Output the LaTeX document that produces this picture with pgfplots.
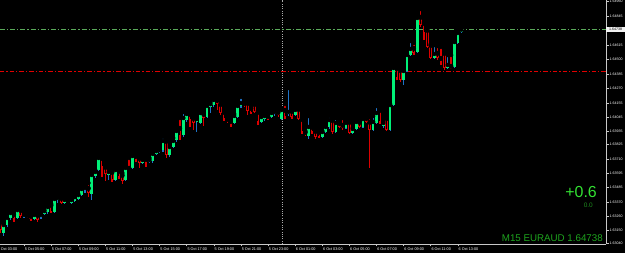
\documentclass[border=0pt]{standalone}
\usepackage{fontspec}
\setmainfont{Liberation Sans}
\usepackage{pgfplots}
\usepackage{pgfplotstable}
\pgfplotsset{compat=1.18}
\definecolor{bullbody}{RGB}{0,240,120}
\definecolor{bullwick}{RGB}{30,115,200}
\definecolor{bearcol}{RGB}{220,0,0}
\definecolor{axisgray}{RGB}{200,200,200}
\definecolor{bidline}{RGB}{90,170,90}
\definecolor{redline}{RGB}{225,0,0}
\definecolor{sepgray}{RGB}{170,170,170}
\definecolor{biggreen}{RGB}{50,225,50}
\definecolor{smallgreen}{RGB}{30,140,30}
\definecolor{infogreen}{RGB}{30,165,30}

\pgfplotstableread{
i O H L C
2 1.63125 1.63212 1.63101 1.63188
3 1.63188 1.63276 1.63172 1.63244
4 1.63244 1.63307 1.63228 1.63284
6 1.63244 1.63323 1.63236 1.63307
8 1.63260 1.63291 1.63244 1.63268
11 1.63236 1.63291 1.63228 1.63268
13 1.63252 1.63284 1.63236 1.63268
14 1.63276 1.63307 1.63268 1.63299
15 1.63291 1.63347 1.63276 1.63331
17 1.63291 1.63403 1.63284 1.63395
18 1.63387 1.63426 1.63363 1.63403
20 1.63363 1.63395 1.63355 1.63387
22 1.63363 1.63395 1.63355 1.63387
23 1.63379 1.63418 1.63371 1.63410
24 1.63395 1.63434 1.63387 1.63426
25 1.63426 1.63482 1.63418 1.63474
26 1.63466 1.63498 1.63442 1.63482
28 1.63434 1.63601 1.63387 1.63585
29 1.63577 1.63625 1.63561 1.63609
30 1.63625 1.63728 1.63617 1.63720
33 1.63585 1.63633 1.63545 1.63609
35 1.63545 1.63633 1.63537 1.63625
38 1.63545 1.63664 1.63537 1.63641
40 1.63641 1.63768 1.63633 1.63736
43 1.63680 1.63728 1.63672 1.63704
45 1.63688 1.63720 1.63680 1.63704
46 1.63696 1.63783 1.63680 1.63752
47 1.63752 1.63791 1.63744 1.63775
48 1.63768 1.63807 1.63760 1.63783
49 1.63783 1.63887 1.63768 1.63855
51 1.63744 1.63823 1.63728 1.63807
52 1.63807 1.63879 1.63799 1.63855
53 1.63863 1.63958 1.63847 1.63934
55 1.63902 1.64085 1.63887 1.64037
56 1.64021 1.64093 1.64006 1.64069
59 1.64006 1.64037 1.63926 1.64029
60 1.63998 1.64085 1.63990 1.64077
62 1.64045 1.64148 1.64037 1.64133
63 1.64125 1.64164 1.64077 1.64148
64 1.64140 1.64188 1.64125 1.64180
70 1.63998 1.64069 1.63990 1.64053
71 1.64045 1.64148 1.64037 1.64133
72 1.64133 1.64204 1.64117 1.64156
78 1.64006 1.64053 1.63998 1.64045
79 1.64029 1.64069 1.64013 1.64053
81 1.64045 1.64093 1.64037 1.64077
82 1.64069 1.64101 1.64053 1.64085
84 1.64029 1.64117 1.64021 1.64101
86 1.64069 1.64275 1.64053 1.64085
88 1.64061 1.64109 1.64053 1.64101
92 1.63895 1.64053 1.63871 1.63966
96 1.63887 1.63934 1.63879 1.63926
97 1.63926 1.63974 1.63918 1.63966
98 1.63966 1.64053 1.63950 1.64021
100 1.63926 1.64037 1.63918 1.63998
103 1.63958 1.64006 1.63950 1.63998
105 1.63918 1.63958 1.63910 1.63950
106 1.63950 1.64013 1.63942 1.64006
108 1.63966 1.64053 1.63958 1.64029
111 1.63942 1.64053 1.63934 1.64006
112 1.63998 1.64133 1.63990 1.64077
114 1.63974 1.64013 1.63958 1.63998
116 1.63942 1.64148 1.63934 1.64140
117 1.64140 1.64450 1.64133 1.64434
120 1.64339 1.64426 1.64299 1.64410
121 1.64410 1.64545 1.64402 1.64537
122 1.64537 1.64648 1.64529 1.64585
124 1.64561 1.64839 1.64553 1.64831
129 1.64513 1.64616 1.64505 1.64545
133 1.64434 1.64537 1.64426 1.64458
135 1.64442 1.64648 1.64434 1.64640
136 1.64632 1.64736 1.64624 1.64712
137 1.64720 1.64751 1.64712 1.64738
}\bull

\pgfplotstableread{
i O H L C
1 1.63212 1.63244 1.63125 1.63149
5 1.63276 1.63291 1.63212 1.63236
7 1.63307 1.63323 1.63244 1.63260
9 1.63268 1.63284 1.63244 1.63252
10 1.63260 1.63284 1.63220 1.63236
12 1.63268 1.63284 1.63212 1.63228
16 1.63347 1.63355 1.63284 1.63291
19 1.63403 1.63410 1.63355 1.63363
21 1.63379 1.63395 1.63363 1.63371
27 1.63482 1.63522 1.63410 1.63442
31 1.63720 1.63736 1.63569 1.63649
32 1.63649 1.63664 1.63537 1.63593
34 1.63609 1.63625 1.63530 1.63545
36 1.63617 1.63633 1.63553 1.63569
37 1.63585 1.63601 1.63514 1.63537
39 1.63641 1.63720 1.63625 1.63633
41 1.63736 1.63760 1.63688 1.63704
42 1.63720 1.63744 1.63641 1.63680
44 1.63712 1.63720 1.63649 1.63696
50 1.63855 1.63871 1.63720 1.63744
54 1.63958 1.64037 1.63863 1.63895
57 1.64069 1.64093 1.63966 1.64021
58 1.64037 1.64061 1.63942 1.63998
61 1.64069 1.64085 1.63974 1.64037
65 1.64180 1.64188 1.64101 1.64148
66 1.64148 1.64172 1.64061 1.64077
67 1.64085 1.64101 1.64013 1.64029
68 1.64029 1.64053 1.63998 1.64013
69 1.64013 1.64029 1.63966 1.63998
73 1.64156 1.64164 1.64125 1.64148
74 1.64156 1.64164 1.64061 1.64093
75 1.64117 1.64133 1.64069 1.64077
76 1.64148 1.64180 1.64077 1.64085
77 1.64085 1.64093 1.63982 1.64006
80 1.64053 1.64069 1.64021 1.64037
83 1.64085 1.64109 1.64045 1.64061
85 1.64101 1.64148 1.64029 1.64045
87 1.64093 1.64101 1.64029 1.64045
89 1.64109 1.64117 1.64021 1.64029
90 1.64029 1.64037 1.63910 1.63926
91 1.63926 1.63934 1.63895 1.63910
93 1.63966 1.63974 1.63910 1.63926
94 1.63934 1.63950 1.63871 1.63887
95 1.63926 1.63934 1.63879 1.63887
99 1.64021 1.64029 1.63910 1.63926
101 1.63998 1.64006 1.63958 1.63966
102 1.63982 1.64037 1.63942 1.63958
104 1.64006 1.64013 1.63910 1.63918
107 1.64006 1.64029 1.63958 1.63966
109 1.64037 1.64053 1.63998 1.64006
110 1.64006 1.64045 1.63641 1.63942
113 1.64101 1.64117 1.63990 1.64006
115 1.64037 1.64061 1.63934 1.63942
118 1.64434 1.64458 1.64339 1.64355
119 1.64418 1.64426 1.64323 1.64339
123 1.64593 1.64632 1.64537 1.64553
125 1.64839 1.64902 1.64759 1.64775
126 1.64791 1.64799 1.64656 1.64712
127 1.64736 1.64751 1.64593 1.64601
128 1.64616 1.64624 1.64505 1.64513
130 1.64553 1.64609 1.64497 1.64513
131 1.64513 1.64601 1.64458 1.64482
132 1.64553 1.64561 1.64418 1.64434
134 1.64450 1.64537 1.64426 1.64442
}\bear

\begin{document}
\begin{tikzpicture}
\fill[black] (0,-9bp) rectangle (625bp,244bp);
\begin{axis}[
  at={(0,0)}, anchor=south west,
  scale only axis, width=606bp, height=244bp,
  xmin=0.91, xmax=179.7,
  ymin=1.630376, ymax=1.649735,
  axis x line*=bottom, axis y line*=right,
  axis line style={-, draw=axisgray, line width=0.8bp},
  tick align=outside, major tick length=2.5bp,
  tick style={draw=axisgray, line width=0.6bp},
  xtick={8,16,...,136},
  xticklabels={5 Oct 05:00,5 Oct 07:00,5 Oct 09:00,5 Oct 11:00,5 Oct 13:00,5 Oct 15:00,5 Oct 17:00,5 Oct 19:00,5 Oct 21:00,5 Oct 23:00,6 Oct 01:00,6 Oct 03:00,6 Oct 05:00,6 Oct 07:00,6 Oct 09:00,6 Oct 11:00,6 Oct 13:00},
  xticklabel style={anchor=north west, inner sep=0pt, xshift=0.6bp, yshift=-1.2bp, font=\fontsize{3.8}{4}\selectfont, text=white},
  ytick={1.64960,1.64845,1.64730,1.64615,1.64500,1.64385,1.64270,1.64155,1.64045,1.63935,1.63825,1.63710,1.63595,1.63485,1.63370,1.63260,1.63150,1.63040},
  yticklabels={1.64960,1.64845,1.64730,1.64615,1.64500,1.64385,1.64270,1.64155,1.64045,1.63935,1.63825,1.63710,1.63595,1.63485,1.63370,1.63260,1.63150,1.63040},
  yticklabel style={anchor=west, inner sep=0pt, xshift=1bp, font=\fontsize{3.6}{4}\selectfont, text=white},
  clip=true,
]
% separator and level lines
\addplot[forget plot, mark=none, color=sepgray, line width=1bp, dash pattern=on 1bp off 1.3bp] coordinates {(84.27,1.630376) (84.27,1.649735)};
\addplot[forget plot, mark=none, color=bidline, line width=1.3bp, dash pattern=on 5bp off 2bp on 1.2bp off 2bp] coordinates {(0.91,1.647394) (179.7,1.647394)};
\addplot[forget plot, mark=none, color=redline, line width=1.5bp, dash pattern=on 4.5bp off 2bp on 1.2bp off 2bp] coordinates {(0.91,1.644062) (179.7,1.644062)};
% bull wicks
\addplot[only marks, mark=none, forget plot, error bars/.cd, y dir=minus, y explicit, error mark=none,
  error bar style={draw=bullwick, line width=1.1bp}]
  table[x=i, y=H, y error minus expr=\thisrow{H}-\thisrow{L}] {\bull};
% bull bodies
\addplot[only marks, mark=none, forget plot, error bars/.cd, y dir=minus, y explicit, error mark=none,
  error bar style={draw=bullbody, line width=2.7bp}]
  table[x=i, y=C, y error minus expr=\thisrow{C}-\thisrow{O}] {\bull};
% bear wicks
\addplot[only marks, mark=none, forget plot, error bars/.cd, y dir=minus, y explicit, error mark=none,
  error bar style={draw=bearcol, line width=1.45bp}]
  table[x=i, y=H, y error minus expr=\thisrow{H}-\thisrow{L}] {\bear};
% bear bodies (outline)
\addplot[only marks, mark=none, forget plot, error bars/.cd, y dir=minus, y explicit, error mark=none,
  error bar style={draw=bearcol, line width=2.7bp}]
  table[x=i, y=O, y error minus expr=\thisrow{O}-\thisrow{C}] {\bear};
% bear bodies (hollow inside)
\addplot[only marks, mark=none, forget plot, error bars/.cd, y dir=minus, y explicit, error mark=none,
  error bar style={draw=black, line width=0.9bp}]
  table[x=i, y expr=\thisrow{O}-0.00006, y error minus expr={max(\thisrow{O}-\thisrow{C}-0.00012,0)}] {\bear};
\end{axis}
% partial first time label
\node[anchor=north west, inner sep=0pt, text=white, font=\fontsize{3.8}{4}\selectfont] at (-2.5bp,-3.7bp) {5 Oct 03:00};
% bid price box
\node[anchor=west, fill=white!90!gray, text=black, inner sep=0.5bp, minimum height=5.4bp, minimum width=19bp, font=\fontsize{3.6}{4}\selectfont] at (606bp,214.7bp) {1.64738};
% info texts
\node[anchor=base east, inner sep=0pt, text=biggreen, font=\fontsize{16}{18}\selectfont] at (597bp,46bp) {+0.6};
\node[anchor=base east, inner sep=0pt, text=smallgreen, font=\fontsize{6.5}{7}\selectfont] at (593bp,37bp) {0.0};
\node[anchor=base east, inner sep=0pt, text=infogreen, font=\fontsize{9.8}{11}\selectfont] at (603bp,3bp) {M15 EURAUD 1.64738};
\pgfresetboundingbox
\path[use as bounding box] (0,-9bp) rectangle (625bp,244bp);
\end{tikzpicture}
\end{document}
